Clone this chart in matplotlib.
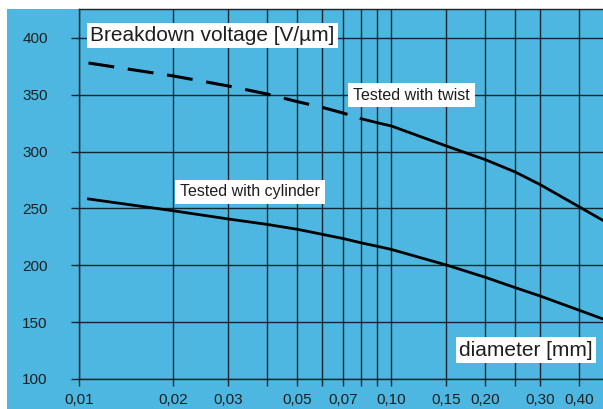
import matplotlib.pyplot as plt
from matplotlib.patches import Rectangle
from matplotlib.ticker import NullLocator

plt.rcParams['font.family'] = ['Liberation Sans', 'DejaVu Sans']

# diameter [mm] and breakdown voltage [V/um]
diam = [0.0107, 0.02, 0.03, 0.04, 0.05, 0.06, 0.07, 0.08, 0.09, 0.10,
        0.15, 0.20, 0.25, 0.30, 0.40, 0.477]
twist = [378, 366.6, 357.8, 350.7, 344, 339, 334, 329, 325.5, 322.6,
         305, 293, 282, 271, 251.5, 239.5]
cylinder = [258.4, 248, 240.8, 236, 231.7, 227.3, 223.6, 219.8, 216.8, 214,
            200.3, 189.5, 180.3, 173, 160.5, 152.8]
n_dashed = 8  # twist curve is dashed up to 0.08 mm

xgrid = [0.01, 0.02, 0.03, 0.04, 0.05, 0.06, 0.07, 0.08, 0.09, 0.10,
         0.15, 0.20, 0.25, 0.30, 0.40]
xlabels = ['0,01', '0,02', '0,03', '', '0,05', '', '0,07', '', '', '0,10',
           '0,15', '0,20', '', '0,30', '0,40']
yticks = [100, 150, 200, 250, 300, 350, 400]

blue = '#4db7e1'
gridc = '#17262e'
txt = '#1e1e1e'

fig = plt.figure(figsize=(6.03, 4.09), dpi=100)
fig.patch.set_facecolor('white')
fig.patches.append(Rectangle((7 / 603, 0), 1 - 7 / 603, 1 - 9 / 409,
                             transform=fig.transFigure, facecolor=blue,
                             edgecolor='none', zorder=0))

ax = fig.add_axes([79.3 / 603, 30 / 409, 1 - 79.3 / 603, 370 / 409])
ax.set_zorder(1)
ax.set_facecolor('none')
ax.set_xscale('log')
ax.set_xlim(0.01, 0.477)
ax.set_ylim(100, 425.5)

ax.set_xticks(xgrid)
ax.set_xticklabels(xlabels)
ax.xaxis.set_minor_locator(NullLocator())
ax.set_yticks(yticks)
ax.tick_params(axis='x', length=5, width=1.0, color=gridc, pad=5,
               labelsize=11, labelcolor=txt)
ax.tick_params(axis='y', length=5.8, width=1.0, color=gridc, pad=17,
               labelsize=11, labelcolor=txt)
ax.grid(True, color=gridc, lw=1.0)
ax.set_axisbelow(True)
for side in ['left', 'bottom', 'top']:
    ax.spines[side].set_color(gridc)
    ax.spines[side].set_linewidth(1.0)
ax.spines['right'].set_visible(False)

ax.plot(diam[:n_dashed], twist[:n_dashed], color='black', lw=2.2,
        dashes=(8.5, 4.5), solid_capstyle='butt')
ax.plot(diam[n_dashed - 1:], twist[n_dashed - 1:], color='black', lw=2.0)
ax.plot(diam, cylinder, color='black', lw=2.0)

box = dict(boxstyle='square,pad=0.15', facecolor='white', edgecolor='none')
box2 = dict(boxstyle='square,pad=0.3', facecolor='white', edgecolor='none')
labels = [
    (90, 35.5, 'Breakdown voltage [V/\u00b5m]', 15, box),
    (459, 350, 'diameter [mm]', 15, box),
    (353, 95, 'Tested with twist', 11.5, box2),
    (180, 192, 'Tested with cylinder', 11.5, box2),
]
for px, py, s, fs, b in labels:
    fig.text(px / 603, 1 - py / 409, s, fontsize=fs, color=txt,
             ha='left', va='center', bbox=b, zorder=5)

fig.savefig('out.png', dpi=100, facecolor=fig.get_facecolor())
